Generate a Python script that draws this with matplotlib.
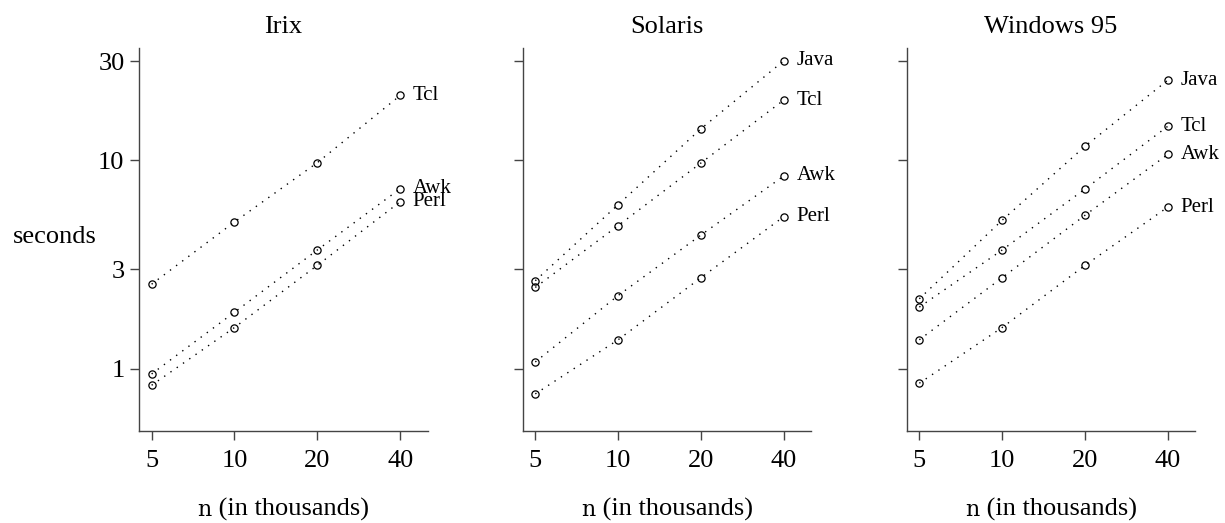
import matplotlib
matplotlib.use('Agg')
import matplotlib.pyplot as plt
from matplotlib.ticker import NullLocator
from matplotlib.offsetbox import TextArea, HPacker, AnnotationBbox

plt.rcParams['font.family'] = ['Liberation Serif', 'DejaVu Serif']

# n (in thousands) and run times in seconds
n = [5, 10, 20, 40]

irix_tcl = [2.55, 5.07, 9.76, 20.5]
irix_awk = [0.946, 1.87, 3.72, 7.32]
irix_perl = [0.835, 1.58, 3.14, 6.34]

solaris_java = [2.65, 6.14, 14.2, 30.1]
solaris_tcl = [2.46, 4.87, 9.73, 19.5]
solaris_awk = [1.08, 2.25, 4.39, 8.43]
solaris_perl = [0.759, 1.38, 2.74, 5.38]

win_java = [2.17, 5.17, 11.7, 24.3]
win_tcl = [1.98, 3.72, 7.30, 14.6]
win_awk = [1.38, 2.74, 5.46, 10.7]
win_perl = [0.854, 1.58, 3.14, 5.98]

titles = ['Irix', 'Solaris', 'Windows 95']
panels = [
    [('Tcl', irix_tcl), ('Awk', irix_awk), ('Perl', irix_perl)],
    [('Java', solaris_java), ('Tcl', solaris_tcl), ('Awk', solaris_awk), ('Perl', solaris_perl)],
    [('Java', win_java), ('Tcl', win_tcl), ('Awk', win_awk), ('Perl', win_perl)],
]
x_ticks = [5, 10, 20, 40]
y_ticks = [1, 3, 10, 30]

fig = plt.figure(figsize=(12.25, 5.23), dpi=100)
lefts = [0.1135, 0.4267, 0.7402]
axis_col = '#444444'

for i, (left, title, series) in enumerate(zip(lefts, titles, panels)):
    ax = fig.add_axes([left, 0.176, 0.2355, 0.732])
    ax.set_xscale('log')
    ax.set_yscale('log')
    for name, vals in series:
        ax.plot(n, vals, color='black', lw=1.0, linestyle=(0, (1, 4.5)),
                marker='o', markersize=5.2, markerfacecolor='none',
                markeredgecolor='black', markeredgewidth=0.9)
        ax.annotate(name, xy=(n[-1], vals[-1]), xytext=(9, 0),
                    textcoords='offset points', va='center', ha='left',
                    fontsize=15)
    ax.set_xlim(4.5, 50.3)
    ax.set_ylim(0.504, 34.6)
    ax.set_xticks(x_ticks)
    ax.set_xticklabels([str(v) for v in x_ticks])
    ax.set_yticks(y_ticks)
    if i == 0:
        ax.set_yticklabels([str(v) for v in y_ticks])
    else:
        ax.set_yticklabels([])
    ax.xaxis.set_minor_locator(NullLocator())
    ax.yaxis.set_minor_locator(NullLocator())
    for s in ['top', 'right']:
        ax.spines[s].set_visible(False)
    for s in ['left', 'bottom']:
        ax.spines[s].set_color(axis_col)
        ax.spines[s].set_linewidth(1.0)
    ax.tick_params(direction='out', length=6.5, width=1.0, color=axis_col,
                   labelsize=19)
    ax.tick_params(axis='x', pad=7)
    ax.tick_params(axis='y', pad=4)
    ax.set_title(title, fontsize=19, pad=11)

    # x label: "n" in a slab-serif face, the rest in serif
    part_n = TextArea('n', textprops=dict(family='DejaVu Serif', size=16))
    part_rest = TextArea(' (in thousands)', textprops=dict(size=19))
    label = HPacker(children=[part_n, part_rest], align='baseline', pad=0, sep=0)
    ab = AnnotationBbox(label, xy=(0.5, -0.205), xycoords='axes fraction',
                        frameon=False, box_alignment=(0.5, 0.5))
    ax.add_artist(ab)

fig.text(55 / 1225, 1 - 237 / 523, 'seconds', fontsize=19,
         ha='center', va='center')

plt.savefig('out.png', dpi=100)
